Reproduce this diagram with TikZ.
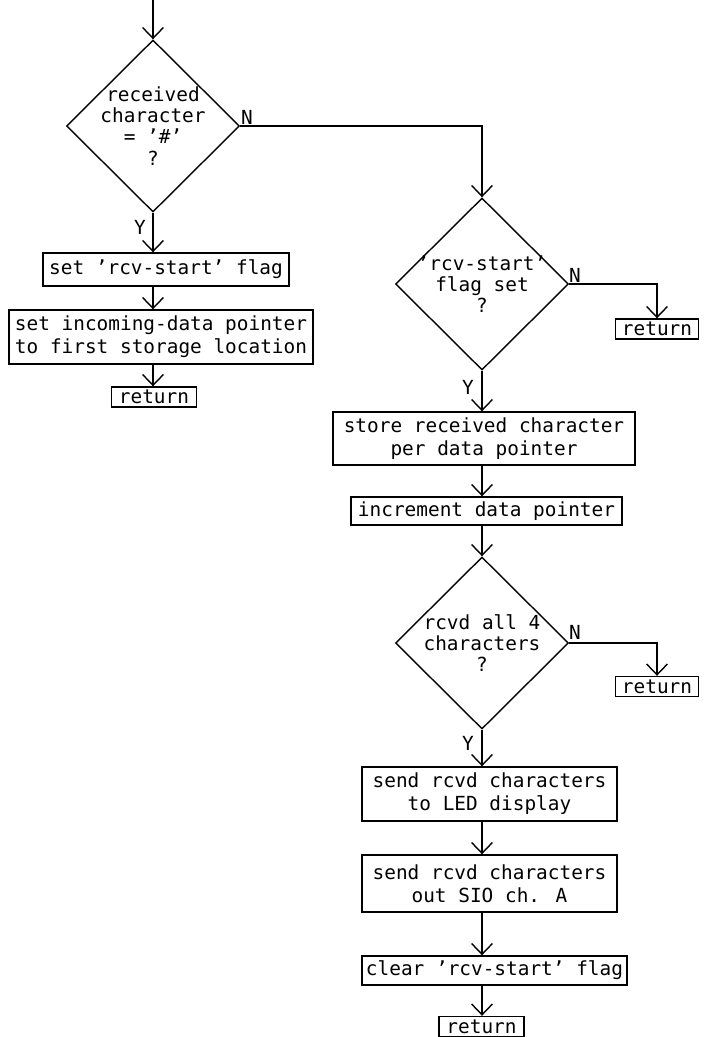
\documentclass[tikz,border=0pt]{standalone}
\usepackage{fontspec}
\setmainfont{DejaVu Sans Mono}
\usetikzlibrary{shapes.geometric,arrows.meta}
\newlength{\unitpx}
\setlength{\unitpx}{0.025cm}
\tikzset{
	block/.style={draw, align=center, inner sep=0pt, font=\fontsize{13.8pt}{16.3pt}\selectfont},
	ret/.style={block, minimum width=85\unitpx, minimum height=20\unitpx},
	decision/.style={diamond, draw, align=center, inner sep=-6pt, minimum width=173\unitpx, minimum height=172\unitpx, font=\fontsize{13.8pt}{15pt}\selectfont},
	lbl/.style={inner sep=0pt, font=\fontsize{13.8pt}{16pt}\selectfont}
}

\begin{document}
\begin{tikzpicture}[x=0.025cm, y=-0.025cm, line width=1pt, >={Straight Barb[length=2.7mm,width=5.2mm]}]
	\useasboundingbox (0,0) rectangle (703,1037);
	\coordinate (entry) at (153,0);
	% left branch
	\node[decision] (ishash) at (153,126) {received\\character\\= '\#'\\?};
	\node[block, minimum width=246\unitpx, minimum height=33\unitpx] (setflag) at (166,269.5) {set 'rcv-start' flag};
	\node[block, minimum width=304\unitpx, minimum height=54\unitpx] (setptr) at (161,337) {set incoming-data pointer\\to first storage location};
	\node[ret] (ret1) at (154,397) {return};
	% right branch
	\node[decision] (flagset) at (482,284) {'rcv-start'\\flag set\\?};
	\node[ret, minimum width=83\unitpx] (ret2) at (657,329) {return};
	\node[block, minimum width=302\unitpx, minimum height=53\unitpx] (store) at (484,438.5) {store received character\\per data pointer};
	\node[block, minimum width=271\unitpx, minimum height=28\unitpx] (incr) at (486.5,511) {increment data pointer};
	\node[decision] (allfour) at (482,643) {rcvd all 4\\characters\\?};
	\node[ret, minimum width=83\unitpx] (ret3) at (657,686.5) {return};
	\node[block, minimum width=255\unitpx, minimum height=54\unitpx] (led) at (489.5,794) {send rcvd characters\\to LED display};
	\node[block, minimum width=255\unitpx, minimum height=57\unitpx] (sio) at (489.5,883.5) {send rcvd characters\\out SIO ch. A};
	\node[block, minimum width=265\unitpx, minimum height=29\unitpx] (clear) at (494.5,970.5) {clear 'rcv-start' flag};
	\node[ret] (ret4) at (481.5,1026.5) {return};
	% Y / N labels
	\node[lbl] (n1) at (247,117) {N};
	\node[lbl] (y1) at (140,227) {Y};
	\node[lbl] (n2) at (575,275) {N};
	\node[lbl] (y2) at (468,387) {Y};
	\node[lbl] (n3) at (575,632) {N};
	\node[lbl] (y3) at (468,743) {Y};
	% connectors
	\draw[->] (entry) -- (ishash.north);
	\draw[->] (ishash.south) -- (ishash.south |- setflag.north);
	\draw[->] (setflag.south -| ishash.south) -- (ishash.south |- setptr.north);
	\draw[->] (setptr.south -| ishash.south) -- (ishash.south |- ret1.north);
	\draw[->] (ishash.east) -| (flagset.north);
	\draw[->] (flagset.east) -| (ret2.north);
	\draw[->] (flagset.south) -- (flagset.south |- store.north);
	\draw[->] (store.south -| flagset.south) -- (flagset.south |- incr.north);
	\draw[->] (incr.south -| flagset.south) -- (allfour.north);
	\draw[->] (allfour.east) -| (ret3.north);
	\draw[->] (allfour.south) -- (allfour.south |- led.north);
	\draw[->] (led.south -| allfour.south) -- (allfour.south |- sio.north);
	\draw[->] (sio.south -| allfour.south) -- (allfour.south |- clear.north);
	\draw[->] (clear.south -| allfour.south) -- (allfour.south |- ret4.north);
\end{tikzpicture}
\end{document}
